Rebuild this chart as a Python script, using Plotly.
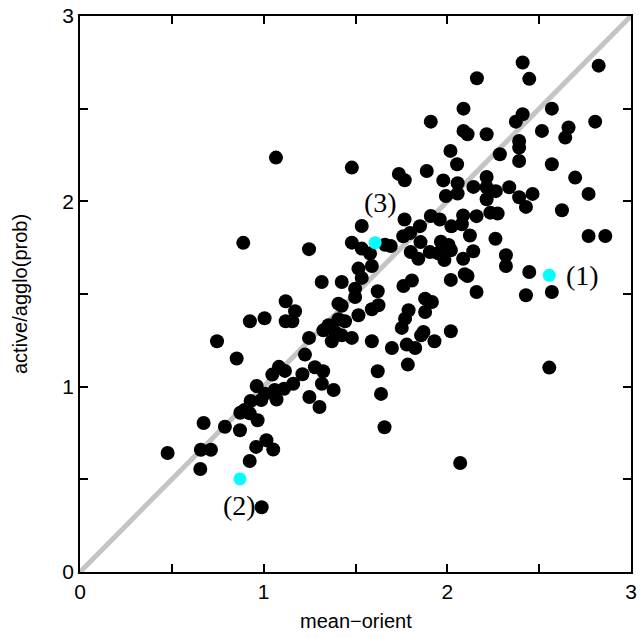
import plotly.graph_objects as go

# black points (mean-orient, active/agglo(prob))
x_black = [1.910, 1.067, 1.480, 1.736, 1.768, 1.888, 1.978, 1.992, 2.410, 2.824,
           2.161, 2.446, 2.088, 2.569, 2.410, 2.373, 2.805, 2.660, 2.515, 2.088,
           2.110, 2.214, 2.642, 2.391, 2.391, 2.017, 2.286, 2.053, 2.391, 2.569,
           2.696, 2.214, 2.056, 2.142, 2.214, 2.264, 2.337, 2.056, 2.769, 2.464,
           2.391, 2.214, 2.428, 2.624, 2.086, 2.159, 2.234, 2.274, 2.022, 2.079,
           2.769, 2.860, 2.123, 2.262, 2.007, 2.019, 2.141, 2.319, 2.319, 2.086,
           1.984, 2.446, 2.095, 2.110, 2.019, 2.159, 2.428, 2.569, 2.019, 2.555,
           1.534, 1.767, 1.910, 1.959, 1.851, 1.797, 1.760, 1.480, 1.661, 1.692,
           1.534, 1.579, 1.247, 1.854, 1.801, 1.842, 1.905, 1.965, 1.950, 1.589,
           1.516, 1.534, 1.316, 1.425, 1.498, 1.498, 1.621, 1.807, 1.761, 1.120,
           1.171, 1.407, 1.425, 1.625, 1.589, 1.879, 1.916, 1.879, 1.789, 1.770,
           1.752, 1.005, 1.120, 1.156, 1.516, 1.407, 1.443, 1.353, 1.325, 1.389,
           1.425, 1.371, 1.480, 1.247, 1.589, 1.698, 1.779, 1.825, 1.870, 1.857,
           1.930, 1.225, 1.785, 1.621, 1.279, 1.324, 1.211, 1.083, 1.116, 1.047,
           1.161, 1.317, 0.962, 1.381, 1.111, 1.060, 1.007, 0.929, 0.987, 1.070,
           1.249, 1.304, 0.896, 0.873, 0.924, 0.967, 0.789, 0.871, 1.015, 0.959,
           1.052, 0.924, 1.639, 1.658, 0.989, 2.070, 0.673, 0.477, 0.658, 0.713,
           0.655, 0.889, 0.925, 0.746, 0.853]
y_black = [2.430, 2.236, 2.182, 2.148, 2.114, 2.164, 2.113, 2.029, 2.749, 2.732,
           2.664, 2.661, 2.500, 2.500, 2.470, 2.430, 2.430, 2.398, 2.380, 2.380,
           2.362, 2.362, 2.344, 2.326, 2.290, 2.272, 2.254, 2.200, 2.218, 2.200,
           2.128, 2.131, 2.098, 2.078, 2.076, 2.055, 2.076, 2.042, 2.040, 2.040,
           2.022, 2.011, 1.970, 1.952, 1.924, 1.920, 1.939, 1.934, 1.865, 1.876,
           1.813, 1.813, 1.816, 1.798, 1.764, 1.736, 1.731, 1.709, 1.651, 1.690,
           1.683, 1.619, 1.607, 1.597, 1.576, 1.511, 1.493, 1.511, 1.299, 1.103,
           1.867, 1.902, 1.921, 1.902, 1.866, 1.829, 1.812, 1.777, 1.766, 1.759,
           1.745, 1.718, 1.742, 1.780, 1.726, 1.690, 1.726, 1.782, 1.720, 1.651,
           1.637, 1.587, 1.565, 1.565, 1.529, 1.484, 1.515, 1.573, 1.543, 1.461,
           1.407, 1.448, 1.436, 1.439, 1.418, 1.475, 1.457, 1.403, 1.412, 1.367,
           1.317, 1.369, 1.353, 1.353, 1.385, 1.364, 1.353, 1.331, 1.304, 1.295,
           1.277, 1.245, 1.263, 1.263, 1.245, 1.209, 1.227, 1.209, 1.295, 1.277,
           1.245, 1.173, 1.119, 1.083, 1.105, 1.083, 1.067, 1.107, 1.085, 1.065,
           1.016, 1.016, 1.004, 0.982, 0.989, 0.982, 0.962, 0.923, 0.928, 0.931,
           0.944, 0.890, 0.874, 0.859, 0.856, 0.819, 0.784, 0.765, 0.711, 0.675,
           0.661, 0.599, 0.961, 0.781, 0.349, 0.588, 0.804, 0.642, 0.660, 0.660,
           0.556, 1.776, 1.353, 1.245, 1.152]

# highlighted points
x_cyan = [2.555, 0.871, 1.607]
y_cyan = [1.601, 0.502, 1.777]
cyan_labels = ["(1)", "(2)", "(3)"]

# diagonal reference
diag = [0, 3]

tick_vals = [0, 0.5, 1, 1.5, 2, 2.5, 3]
tick_text = ["0", "", "1", "", "2", "", "3"]

x_title = "mean\u2212orient"
y_title = "active/agglo(prob)"

fig = go.Figure()
fig.add_trace(go.Scatter(x=diag, y=diag, mode="lines",
                         line=dict(color="#c4c4c4", width=5), hoverinfo="skip"))
fig.add_trace(go.Scatter(x=x_black, y=y_black, mode="markers",
                         marker=dict(color="black", size=14, line=dict(width=0))))
fig.add_trace(go.Scatter(x=x_cyan, y=y_cyan, mode="markers",
                         marker=dict(color="#00ffff", size=13, line=dict(width=0))))

label_shift = [(33, 0), (0, -27), (5, 40)]
for xc, yc, t, (dx, dy) in zip(x_cyan, y_cyan, cyan_labels, label_shift):
    fig.add_annotation(x=xc, y=yc, text=t, showarrow=False, xshift=dx, yshift=dy,
                       font=dict(family="Liberation Serif", size=28, color="black"))

title_font = dict(family="Liberation Sans", size=20, color="black")
fig.add_annotation(x=0.5, y=0, xref="paper", yref="paper", text=x_title,
                   showarrow=False, yshift=-49, yanchor="middle", font=title_font)
fig.add_annotation(x=0, y=0.5, xref="paper", yref="paper", text=y_title,
                   showarrow=False, xshift=-60, xanchor="center", textangle=-90,
                   font=title_font)

axis_common = dict(range=[0, 3], tickvals=tick_vals, ticktext=tick_text,
                   ticks="inside", ticklen=8, tickwidth=1.5, tickcolor="black",
                   showline=True, linecolor="black", linewidth=1.5, mirror="ticks",
                   showgrid=False, zeroline=False, automargin=False,
                   ticklabeloverflow="allow",
                   tickfont=dict(family="Liberation Sans", size=21, color="black"))

fig.update_layout(
    width=643, height=637,
    margin=dict(l=80, r=12, t=16, b=65),
    paper_bgcolor="white", plot_bgcolor="white",
    showlegend=False,
    xaxis=dict(**axis_common),
    yaxis=dict(**axis_common),
)

# remove the default 8px page margin so the figure sits at the window origin
fig.write_html("out.html",
               config={"displayModeBar": False},
               post_script=["document.body.style.margin='0';"
                            "document.body.style.overflow='hidden';"])
